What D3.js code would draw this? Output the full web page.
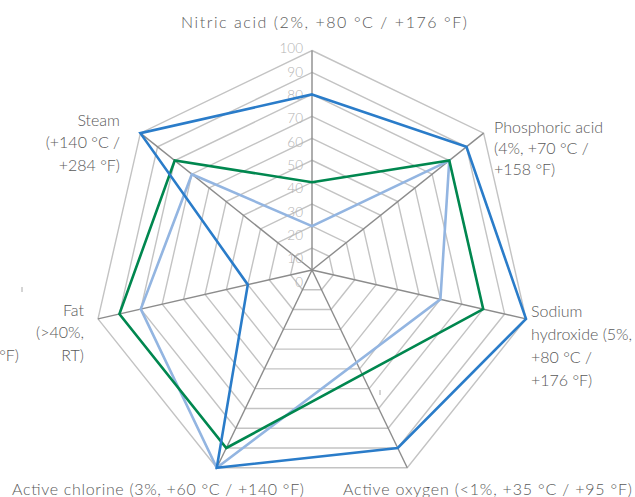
<!DOCTYPE html>
<html>
<head>
<meta charset="utf-8">
<script src="https://cdn.jsdelivr.net/npm/d3@7"></script>
<style>
  html, body { margin: 0; padding: 0; background: #fff; }
  svg { display: block; }
  text { font-family: Lato, "Open Sans", sans-serif; font-weight: 300; }
</style>
</head>
<body>
<svg id="chart" width="635" height="497"></svg>
<script>
// ---- data ----
const categories = [
  "Nitric acid (2%, +80 °C / +176 °F)",
  "Phosphoric acid (4%, +70 °C / +158 °F)",
  "Sodium hydroxide (5%, +80 °C / +176 °F)",
  "Active oxygen (<1%, +35 °C / +95 °F)",
  "Active chlorine (3%, +60 °C / +140 °F)",
  "Fat (>40%, RT)",
  "Steam (+140 °C / +284 °F)"
];
const labelLines = [
  ["Nitric acid (2%, +80 °C / +176 °F)"],
  ["Phosphoric acid", "(4%, +70 °C /", "+158 °F)"],
  ["Sodium", "hydroxide (5%,", "+80 °C /", "+176 °F)"],
  ["Active oxygen (<1%, +35 °C / +95 °F)"],
  ["Active chlorine (3%, +60 °C / +140 °F)"],
  ["Fat", "(>40%,", "RT)"],
  ["Steam", "(+140 °C /", "+284 °F)"]
];
const seriesBlue      = [80, 90, 100, 90, 100, 30, 100];
const seriesGreen     = [40, 80, 80, null, 90, 90, 80];
const seriesLightBlue = [20, 80, 60, null, 100, 80, 70];
const tickValues = [0, 10, 20, 30, 40, 50, 60, 70, 80, 90, 100];

// ---- layout ----
const svg = d3.select("#chart");
const cx = 312, cy = 270, R = 219.5;
const n = categories.length;
const r = d3.scaleLinear().domain([0, 100]).range([0, R]);
const ang = d3.scaleLinear().domain([0, n]).range([0, 2 * Math.PI]);
const px = (i, v) => cx + r(v) * Math.sin(ang(i));
const py = (i, v) => cy - r(v) * Math.cos(ang(i));

const g = svg.append("g");

// rings
const ring = d3.lineRadial()
  .angle((d, i) => ang(i))
  .radius(d => r(d))
  .curve(d3.curveLinearClosed);
g.append("g").attr("transform", `translate(${cx},${cy})`)
  .selectAll("path.ring").data(tickValues.filter(t => t > 0)).join("path")
  .attr("class", "ring")
  .attr("d", t => ring(d3.range(n).map(() => t)))
  .attr("fill", "none").attr("stroke", "#c3c3c3").attr("stroke-width", 1.4);

// spokes
g.selectAll("line.spoke").data(d3.range(n)).join("line")
  .attr("x1", cx).attr("y1", cy)
  .attr("x2", i => px(i, 100)).attr("y2", i => py(i, 100))
  .attr("stroke", "#8c8c8c").attr("stroke-width", 1.4);

// tick labels
const tickY = d3.scaleLinear().domain([0, 100]).range([282, 48.5]);
g.selectAll("text.tick").data(tickValues).join("text")
  .attr("class", "tick")
  .attr("x", 303).attr("y", t => tickY(t))
  .attr("dy", "0.35em")
  .attr("text-anchor", "end")
  .attr("font-size", 13.5)
  .attr("fill", "#b3b3b3")
  .text(t => t);

// series
const series = [
  { values: seriesLightBlue, color: "#93b5e1" },
  { values: seriesGreen, color: "#00874f" },
  { values: seriesBlue, color: "#2a7cc9" }
];
const radial = d3.lineRadial()
  .angle(d => ang(d.i))
  .radius(d => r(d.v))
  .curve(d3.curveLinearClosed);
g.append("g").attr("transform", `translate(${cx},${cy})`)
  .selectAll("path.series").data(series).join("path")
  .attr("class", "series")
  .attr("d", s => radial(s.values.map((v, i) => ({ i, v })).filter(d => d.v !== null)))
  .attr("fill", "none")
  .attr("stroke", s => s.color)
  .attr("stroke-width", 2.6)
  .attr("stroke-linejoin", "miter");

// category labels
const labelPos = [
  { x: 181, y: 22, anchor: "start", lh: 21, len: 286 },
  { x: 494, y: 127, anchor: "start", lh: 21 },
  { x: 531, y: 311, anchor: "start", lh: 23 },
  { x: 343, y: 489, anchor: "start", lh: 21, len: 289 },
  { x: 12, y: 489, anchor: "start", lh: 21, len: 292 },
  { x: 84, y: 310, anchor: "end", lh: 22.5 },
  { x: 120, y: 120, anchor: "end", lh: 22.5 }
];
const lab = g.selectAll("text.cat").data(d3.range(n)).join("text")
  .attr("class", "cat")
  .attr("x", i => labelPos[i].x)
  .attr("y", i => labelPos[i].y)
  .attr("text-anchor", i => labelPos[i].anchor)
  .attr("font-size", 16)
  .attr("fill", "#595959");
lab.selectAll("tspan").data(i => labelLines[i].map((t, k) => ({ t, k, i }))).join("tspan")
  .attr("x", d => labelPos[d.i].x)
  .attr("y", d => labelPos[d.i].y + d.k * labelPos[d.i].lh)
  .attr("dy", "0.35em")
  .each(function (d) {
    if (labelPos[d.i].len) {
      d3.select(this).attr("textLength", labelPos[d.i].len).attr("lengthAdjust", "spacing");
    }
  })
  .text(d => d.t);

// clipped fragment of a neighbouring label at the left edge
g.append("text")
  .attr("x", 19).attr("y", 355).attr("dy", "0.35em")
  .attr("text-anchor", "end").attr("font-size", 16).attr("fill", "#595959")
  .text("+95 °F)");

// stray marks
g.append("line").attr("x1", 22).attr("y1", 287).attr("x2", 22).attr("y2", 292)
  .attr("stroke", "#aaa").attr("stroke-width", 1);
g.append("line").attr("x1", 380).attr("y1", 390).attr("x2", 380).attr("y2", 395)
  .attr("stroke", "#aaa").attr("stroke-width", 1);
</script>
</body>
</html>
